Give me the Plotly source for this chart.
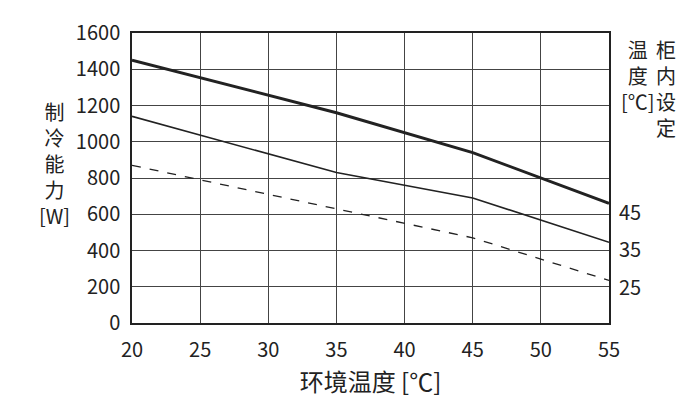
import plotly.graph_objects as go

x_pts = [20, 35, 45, 55]
s45 = [1450, 1160, 940, 660]
s35 = [1140, 830, 690, 445]
s25 = [870, 630, 470, 235]
labels = ["45", "35", "25"]

F = "Noto Sans CJK SC"
fig = go.Figure()
fig.add_trace(go.Scatter(x=x_pts, y=s45, mode="lines", line=dict(color="#222", width=3)))
fig.add_trace(go.Scatter(x=x_pts, y=s35, mode="lines", line=dict(color="#222", width=1.6)))
fig.add_trace(go.Scatter(x=x_pts, y=s25, mode="lines", line=dict(color="#222", width=1.3, dash="dash")))

for lab, yv in zip(labels, [s45[-1], s35[-1], s25[-1]]):
    fig.add_annotation(x=55, y=yv, text=lab, showarrow=False, xanchor="left", xshift=8,
                       yshift=-6 if lab != "45" else -8, font=dict(size=20, color="#222", family=F))

fig.add_annotation(xref="paper", yref="paper", x=-0.2, y=0.55, text="制<br>冷<br>能<br>力<br>[W]",
                   showarrow=False, font=dict(size=20, color="#222", family=F), align="center")
fig.add_annotation(xref="paper", yref="paper", x=1.02, y=1.0, yanchor="top", xanchor="left",
                   text="温<br>度<br>[℃]", showarrow=False, font=dict(size=20, color="#222", family=F), align="center")
fig.add_annotation(xref="paper", yref="paper", x=1.095, y=1.0, yanchor="top", xanchor="left",
                   text="柜<br>内<br>设<br>定", showarrow=False, font=dict(size=20, color="#222", family=F), align="center")

fig.update_layout(
    width=685, height=414, showlegend=False, plot_bgcolor="white", paper_bgcolor="white",
    margin=dict(l=124, r=84, t=25, b=99, autoexpand=False),
    font=dict(family=F, size=20, color="#222"),
)
fig.update_xaxes(range=[20, 55], dtick=5, showgrid=True, gridcolor="#444", gridwidth=1,
                 showline=True, linecolor="#222", linewidth=1.5, mirror=True, ticks="",
                 ticklabelstandoff=8, automargin=False,
                 title=dict(text="环境温度 [℃]", standoff=12))
fig.update_yaxes(range=[0, 1600], dtick=200, showgrid=True, gridcolor="#444", gridwidth=1,
                 showline=True, linecolor="#222", linewidth=1.5, mirror=True, ticks="", zeroline=False,
                 ticklabelstandoff=6, automargin=False)
fig.write_html("out.html")
